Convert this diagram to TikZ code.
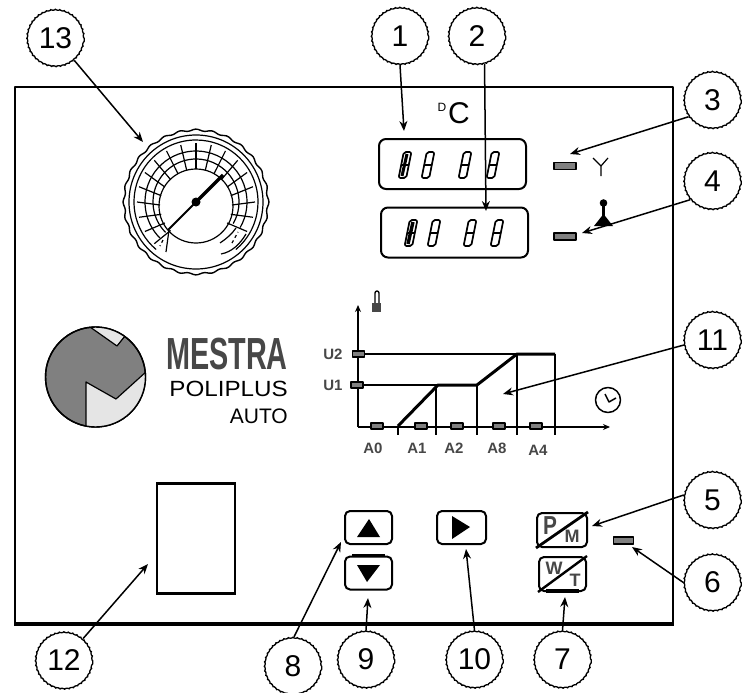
\documentclass[tikz,border=0pt]{standalone}
\usepackage{fontspec}
\setmainfont{Liberation Sans}
\usetikzlibrary{arrows.meta,calc,decorations.pathmorphing}
\definecolor{ledgray}{gray}{0.5}
\definecolor{logolight}{gray}{0.9}
\definecolor{logotext}{gray}{0.28}
\tikzset{
  callout/.style={draw,circle,line width=1.3pt,minimum size=57pt,inner sep=0pt,font=\fontsize{30}{30}\selectfont,decorate,decoration={bumps,segment length=9pt,amplitude=0.7pt}},
  arr/.style={line width=1.5pt,-{Stealth[length=10pt,width=8pt]}},
  led/.style={draw,line width=1.6pt,fill=ledgray,minimum width=#1,minimum height=7pt,inner sep=0pt},
  led/.default=22pt,
  axled/.style={draw,line width=1.5pt,fill=ledgray,minimum width=12pt,minimum height=6pt,inner sep=0pt},
  disp/.style={draw,line width=2pt,rounded corners=7pt,minimum width=147pt,minimum height=50pt,inner sep=0pt},
  btn/.style={draw,line width=2pt,rounded corners=5pt,minimum width=47pt,minimum height=33pt,inner sep=0pt},
  chartlab/.style={text=logotext,font=\bfseries\fontsize{15}{15}\selectfont,inner sep=0pt},
  btnlab/.style={text=logotext,font=\bfseries\fontsize{#1}{#1}\selectfont,inner sep=0pt},
  thin chart/.style={line width=1.2pt},
  thick chart/.style={line width=3pt}
}
\newcommand{\segdigit}[2]{%
  \begin{scope}[shift={(#1,#2)},xslant=0.2]
    \draw[line width=1.7pt,rounded corners=2pt] (-3.8,-13) rectangle (3.8,13);
    \draw[line width=1.7pt] (-3.8,0) -- (3.8,0);
  \end{scope}}
\begin{document}
\begin{tikzpicture}[x=1pt,y=-1pt,line join=round]
\useasboundingbox (0,0) rectangle (753,693);
% panel
\node[draw,line width=1.8pt,minimum width=658pt,minimum height=536pt,inner sep=0pt,anchor=north west] (panel) at (14,86) {};
\draw[line width=4pt] (panel.south west) -- (panel.south east);

% gauge
\begin{scope}[shift={(196,202)}]
  \draw[line width=1.4pt,smooth,domain=0:360,samples=200,variable=\t] plot ({(72+0.9*cos(28*\t))*cos(\t)},{(72+0.9*cos(28*\t))*sin(\t)}) -- cycle;
  \draw[line width=1.2pt] (0,0) circle (67);
  \draw[line width=1.2pt] (50:62) arc[start angle=50,end angle=-230,radius=62];
  \foreach \a in {-30,-15,...,225}{
    \draw[line width=1.2pt] ($(-\a:36)+(0,3)$) -- (-\a:59);
  }
  \draw[line width=1.2pt] (30:51) arc[start angle=30,end angle=-225,radius=51];
  \draw[line width=1.2pt] (30:43) arc[start angle=30,end angle=-225,radius=43];
  \draw[line width=1.2pt] (0,4) circle (37);
  \draw[line width=1.2pt] (25,52) .. controls (36,50) and (44,42) .. (50,32);
  \draw[line width=1.2pt] (24,41) .. controls (30,37) and (36,32) .. (40,26);
  \draw[line width=1.2pt,dashed] (36,41) -- (42,30);
  \draw[line width=1.2pt] (-27,28) -- (-30,50);
  \draw[line width=1.2pt,dashed] (-33,38) -- (-36,44);
\end{scope}
\node[fill,circle,minimum size=9pt,inner sep=0pt] (hub) at (196,202) {};
\coordinate (needleA) at (168,230);
\coordinate (needleB) at (223,175);
\draw[line width=2pt] (needleA) -- (hub.center);
\draw[line width=3.4pt] (hub.center) -- (needleB);

% displays
\node[disp] (d1) at (452.5,164) {};
\node[disp] (d2) at (454.5,232.5) {};
\foreach \x in {405,428,465,493}{\segdigit{\x}{165}}
\foreach \x in {411,434,470,497}{\segdigit{\x}{233}}
\draw[line width=3pt] (402,176) -- (407,154);
\draw[line width=3.4pt] (408,244) -- (413,222);
\node[inner sep=0pt,font=\fontsize{12}{12}\selectfont] (deg) at (442,107) {D};
\node[inner sep=0pt,font=\fontsize{30}{30}\selectfont] (cel) at (459,113) {C};

% leds and symbols
\node[led] (led3) at (565,166) {};
\node[led] (led4) at (565,236.5) {};
\node[led=20pt] (led6) at (623.5,540.5) {};
\coordinate (ya) at (593,158);
\coordinate (yb) at (608,158);
\coordinate (yc) at (601,166);
\coordinate (yd) at (601,176);
\draw[line width=1.2pt] (ya) -- (yc) -- (yb) (yc) -- (yd);
\fill (603.5,203) circle (3.8);
\draw[line width=2.6pt] (603.5,203) -- (603.5,216);
\fill (594,226) -- (603.5,214) -- (613,226) -- cycle;

% logo
\node[draw,circle,line width=1.4pt,fill=ledgray,minimum size=100pt,inner sep=0pt] (logo) at (95.5,377) {};
\begin{scope}
  \clip (95.5,377) circle (50);
  \filldraw[draw=black,line width=1.2pt,fill=logolight] (90,327) -- (117,346) -- (125,336) -- (105,320) -- cycle;
  \filldraw[draw=black,line width=1.2pt,fill=logolight] (86,382) -- (116,399) -- (147,371) -- (160,400) -- (120,440) -- (86,430) -- cycle;
\end{scope}
\draw[line width=1.4pt] (95.5,377) circle (50);
\node[anchor=west,inner sep=0pt,text=logotext,xscale=0.64,font=\bfseries\fontsize{45}{45}\selectfont] (mestra) at (166,354) {MESTRA};
\node[anchor=east,inner sep=0pt,xscale=1.1,text=black,font=\fontsize{22}{22}\selectfont] (poli) at (288,389) {POLIPLUS};
\node[anchor=east,inner sep=0pt,text=black,font=\fontsize{21}{21}\selectfont] (auto) at (288,416) {AUTO};

% chart
\coordinate (org) at (358,427);
\coordinate (ytop) at (358,305);
\coordinate (xend) at (610,427);
\draw[line width=1.5pt,-{Stealth[length=7pt,width=6pt]}] (org) -- (ytop);
\draw[line width=1.5pt,-{Stealth[length=7pt,width=6pt]}] (org) -- (xend);
\draw[thin chart] (358,354) -- (517,354);
\draw[thin chart] (358,385) -- (445,385);
\draw[thick chart] (398,426) -- (438,385) -- (477,385) -- (517,354) -- (555,354);
\draw[line width=1.2pt] (398,427) -- (398,435);
\draw[line width=1.8pt] (436,385) -- (436,435);
\draw[line width=2.6pt] (477,385) -- (477,435);
\draw[line width=2.6pt] (517,354) -- (517,435);
\draw[line width=2.6pt] (555,354) -- (555,435);
\foreach \x in {377,421,457,499,536}{\node[axled] at (\x,426) {};}
\node[axled] (u2led) at (358.5,354) {};
\node[axled] (u1led) at (357,385) {};
\node[chartlab] (u2) at (333,354) {U2};
\node[chartlab] (u1) at (333,385) {U1};
\node[chartlab] (a0) at (373,448) {A0};
\node[chartlab] (a1) at (417,448) {A1};
\node[chartlab] (a2) at (454,448) {A2};
\node[chartlab] (a8) at (497,448) {A8};
\node[chartlab] (a4) at (538,450) {A4};
% thermometer
\draw[line width=1.4pt] (375,303) -- (375,293) arc[start angle=180,end angle=360,radius=2] -- (379,303);
\fill[logotext] (372,303) rectangle (381,312);
% clock
\node[draw,circle,line width=1.5pt,minimum size=25pt,inner sep=0pt] (clock) at (608,400) {};
\draw[line width=1.5pt] (605,394) -- (609,402) -- (616,398);

% keys
\node[btn] (up) at (368.5,527.5) {};
\node[btn] (down) at (368.5,573) {};
\node[btn,minimum width=49pt] (right) at (461.5,527.5) {};
\node[btn,minimum width=50pt,minimum height=34pt] (pm) at (562,530) {};
\node[btn,minimum height=34pt] (wt) at (562.5,574) {};
\fill (357,537) -- (369,519) -- (380,537) -- cycle;
\fill (357,565) -- (380,565) -- (367,582) -- cycle;
\fill (452,516) -- (470,527) -- (452,539) -- cycle;
\draw[line width=3pt] ($(down.north west)+(8,0)$) -- ($(down.north east)+(-8,0)$);
\draw[line width=2.8pt] (pm.south west) -- (pm.north east);
\draw[line width=2.4pt] (wt.south west) -- (wt.north east);
\draw[line width=3.4pt] (546,591) -- (579,591);
\node[btnlab=26,xscale=.8] (p) at (550,526) {P};
\node[btnlab=18] (m) at (572,536) {M};
\node[btnlab=18] (w) at (554,568) {W};
\node[btnlab=18] (t) at (575,580) {T};

% label 12 box
\node[draw,line width=1.2pt,minimum width=78pt,minimum height=109pt,inner sep=0pt] (box12) at (196,538.5) {};
\draw[line width=2.6pt] (box12.north west) -- (box12.north east);
\draw[line width=2.6pt] (box12.south west) -- (box12.south east);

% callouts
\node[callout] (c13) at (55.5,38) {13};
\node[callout] (c1) at (400,36) {1};
\node[callout] (c2) at (477,36) {2};
\node[callout] (c3) at (712.5,100) {3};
\node[callout] (c4) at (712.5,181) {4};
\node[callout] (c11) at (712.5,340) {11};
\node[callout] (c5) at (712.5,500) {5};
\node[callout] (c6) at (712.5,582.5) {6};
\node[callout] (c7) at (562.5,659.5) {7};
\node[callout] (c10) at (474.5,659.5) {10};
\node[callout] (c9) at (366,659.5) {9};
\node[callout] (c8) at (293,666) {8};
\node[callout] (c12) at (64,660.5) {12};

\coordinate (t13) at (143,142);
\coordinate (t1) at (404,131);
\coordinate (t2) at (486,211);
\coordinate (t3) at (570,154);
\coordinate (t4) at (582,233);
\coordinate (t11) at (503,394);
\coordinate (t5) at (592,526);
\coordinate (t6) at (632,547);
\coordinate (t7) at (565,597);
\coordinate (t10) at (466,549);
\coordinate (t9) at (368,598);
\coordinate (t8) at (341,542);
\coordinate (t12) at (148,564);
\draw[arr] (c13.-50) -- (t13);
\draw[arr] (c1.south) -- (t1);
\draw[arr] (c2.-75) -- (t2);
\draw[arr] (c3.215) -- (t3);
\draw[arr] (c4.220) -- (t4);
\draw[arr] (c11.190) -- (t11);
\draw[arr] (c5.170) -- (t5);
\draw[arr] (c6.west) -- (t6);
\draw[arr] (c7.north) -- (t7);
\draw[arr] (c10.north) -- (t10);
\draw[arr] (c9.north) -- (t9);
\draw[arr] (c8.88) -- (t8);
\draw[arr] (c12) -- (t12);
\end{tikzpicture}
\end{document}
